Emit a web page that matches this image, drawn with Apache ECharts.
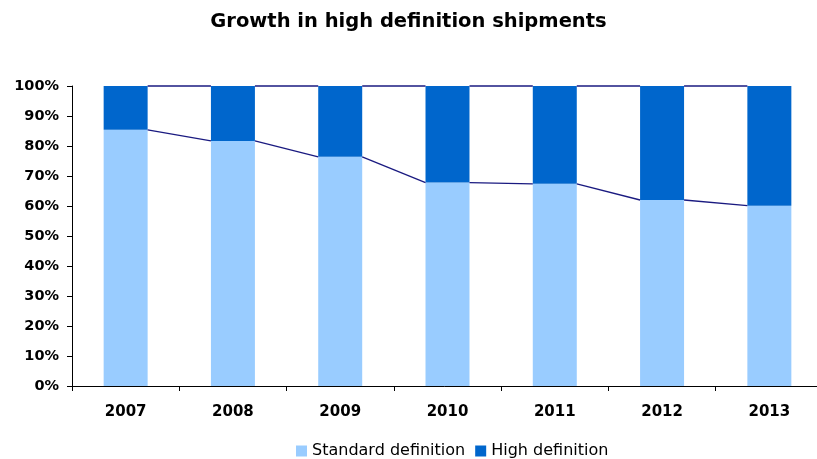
<!DOCTYPE html>
<html>
<head>
<meta charset="utf-8">
<script src="https://cdn.jsdelivr.net/npm/echarts@6/dist/echarts.min.js"></script>
<style>
  html, body { margin: 0; padding: 0; background: #fff; }
  #chart { width: 817px; height: 459px; }
</style>
</head>
<body>
<div id="chart"></div>
<script>
// Share of shipments (%) by year
var years = ['2007', '2008', '2009', '2010', '2011', '2012', '2013'];
var standardDef = [85.4, 81.7, 76.4, 67.8, 67.4, 62.0, 60.1];
var highDef = standardDef.map(function (v) { return +(100 - v).toFixed(1); });
var yTicks = [0, 10, 20, 30, 40, 50, 60, 70, 80, 90, 100];

var FONT = '"DejaVu Sans", Verdana, sans-serif';
var BAR_FRACTION = 0.41;

// Segments joining adjacent bars at each stack boundary (Excel-style series lines)
var seriesLineData = [];
for (var i = 0; i < years.length - 1; i++) {
  seriesLineData.push([i, standardDef[i], standardDef[i + 1],
                       standardDef[i] + highDef[i], standardDef[i + 1] + highDef[i + 1]]);
}

var chart = echarts.init(document.getElementById('chart'), null, { renderer: 'canvas' });

chart.setOption({
  backgroundColor: '#ffffff',
  animation: false,
  title: {
    text: 'Growth in high definition shipments',
    left: 'center',
    top: 7,
    textStyle: { fontFamily: FONT, fontSize: 19.5, fontWeight: 'bold', color: '#000' }
  },
  legend: {
    left: 291,
    top: 438,
    itemWidth: 11,
    itemHeight: 11,
    itemGap: 10,
    icon: 'rect',
    data: ['Standard definition', 'High definition'],
    textStyle: { fontFamily: FONT, fontSize: 16, color: '#000', padding: [0, 0, 0, 0] }
  },
  grid: { left: 72, width: 751, top: 86, bottom: 73, containLabel: false, outerBoundsMode: 'none' },
  xAxis: {
    type: 'category',
    data: years,
    boundaryGap: true,
    axisLine: { lineStyle: { color: '#000', width: 1 } },
    axisTick: { show: true, length: 5, lineStyle: { color: '#000' } },
    axisLabel: { fontFamily: FONT, fontSize: 15, fontWeight: 'bold', color: '#000', margin: 19 }
  },
  yAxis: {
    type: 'value',
    min: 0,
    max: 100,
    interval: 10,
    axisLine: { show: true, lineStyle: { color: '#000', width: 1 } },
    axisTick: { show: true, length: 5, lineStyle: { color: '#000' } },
    splitLine: { show: false },
    axisLabel: {
      fontFamily: FONT, fontSize: 14.5, fontWeight: 'bold', color: '#000', margin: 13,
      formatter: function (v) { return yTicks.indexOf(v) >= 0 ? v + '%' : ''; }
    }
  },
  series: [
    {
      name: 'Standard definition',
      type: 'bar',
      stack: 'share',
      barWidth: (BAR_FRACTION * 100) + '%',
      itemStyle: { color: '#99CCFF' },
      data: standardDef
    },
    {
      name: 'High definition',
      type: 'bar',
      stack: 'share',
      barWidth: (BAR_FRACTION * 100) + '%',
      itemStyle: { color: '#0066CC' },
      data: highDef
    },
    {
      name: 'series lines',
      type: 'custom',
      silent: true,
      z: 5,
      data: seriesLineData,
      renderItem: function (params, api) {
        var idx = api.value(0);
        var half = api.size([1, 0])[0] * BAR_FRACTION / 2;
        var style = { stroke: '#1a1a80', lineWidth: 1.3 };
        var a1 = api.coord([idx, api.value(1)]);
        var b1 = api.coord([idx + 1, api.value(2)]);
        var a2 = api.coord([idx, api.value(3)]);
        var b2 = api.coord([idx + 1, api.value(4)]);
        return {
          type: 'group',
          children: [
            { type: 'line', shape: { x1: a1[0] + half, y1: a1[1], x2: b1[0] - half, y2: b1[1] }, style: style },
            { type: 'line', shape: { x1: a2[0] + half, y1: a2[1], x2: b2[0] - half, y2: b2[1] }, style: style }
          ]
        };
      }
    }
  ]
});
</script>
</body>
</html>
